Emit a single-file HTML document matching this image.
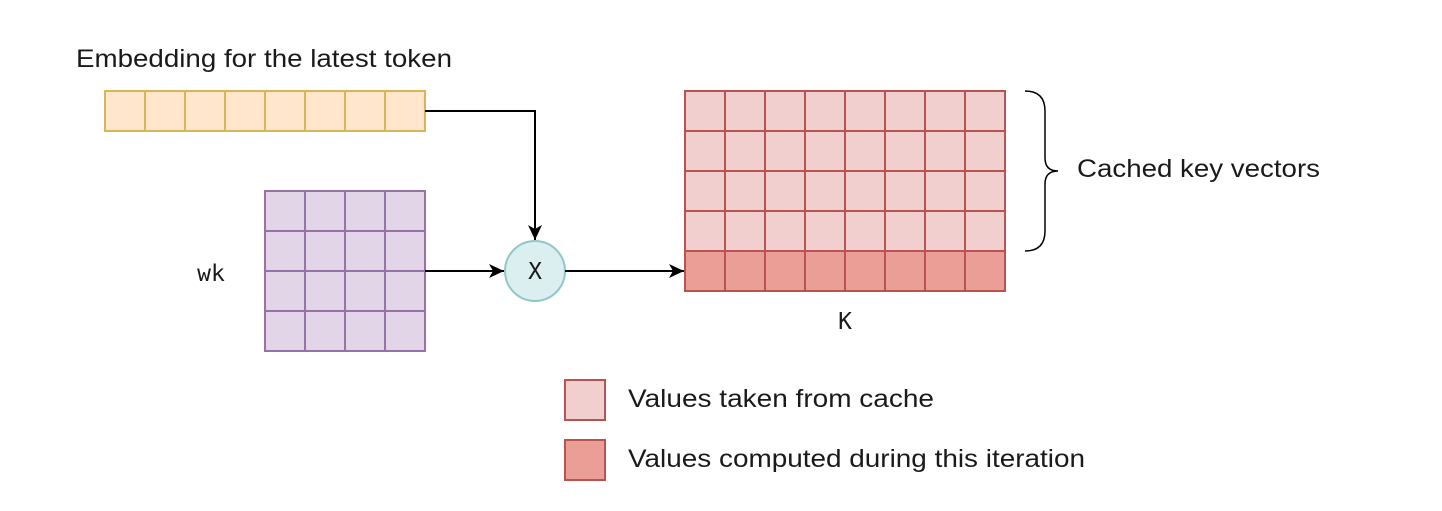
<!DOCTYPE html>
<html><head><style>html,body{margin:0;padding:0;background:#fff;}</style></head>
<body>
<svg width="1442" height="506" xmlns="http://www.w3.org/2000/svg">
<defs><marker id="a" markerWidth="16" markerHeight="14" refX="15" refY="7" orient="auto" markerUnits="userSpaceOnUse"><path d="M0,0 L15,7 L0,14 L4,7 Z" fill="#000"/></marker></defs>
<g stroke="#d6b656" stroke-width="2" fill="#ffe6cc">
<rect x="105" y="91" width="40" height="40"/><rect x="145" y="91" width="40" height="40"/><rect x="185" y="91" width="40" height="40"/><rect x="225" y="91" width="40" height="40"/><rect x="265" y="91" width="40" height="40"/><rect x="305" y="91" width="40" height="40"/><rect x="345" y="91" width="40" height="40"/><rect x="385" y="91" width="40" height="40"/>
</g>
<g stroke="#9673a6" stroke-width="2" fill="#e1d5e7" id="w"></g>
<g stroke="#b85450" stroke-width="2" id="k"></g>
<circle cx="535" cy="271" r="30" fill="#dbeef0" stroke="#8fc7c9" stroke-width="2"/>
<g stroke="#000" stroke-width="2" fill="none">
<path d="M425 111 H535 V240" marker-end="url(#a)"/>
<path d="M425 271 H504" marker-end="url(#a)"/>
<path d="M565 271 H684" marker-end="url(#a)"/>
</g>
<path d="M1025 91 Q1045 91 1045 111 V158 Q1045 171 1058 171 Q1045 171 1045 184 V231 Q1045 251 1025 251" stroke="#000" stroke-width="1.5" fill="none"/>
<rect x="565" y="380" width="40" height="40" fill="#f2cfcf" stroke="#b85450" stroke-width="2"/>
<rect x="565" y="440" width="40" height="40" fill="#ea9e96" stroke="#b85450" stroke-width="2"/>
<g font-family="Liberation Sans, sans-serif" font-size="25" fill="#1a1a1a">
<text x="76" y="67" textLength="376" lengthAdjust="spacingAndGlyphs">Embedding for the latest token</text>
<text x="1077" y="177" textLength="243" lengthAdjust="spacingAndGlyphs">Cached key vectors</text>
<text x="628" y="407" textLength="306" lengthAdjust="spacingAndGlyphs">Values taken from cache</text>
<text x="628" y="467" textLength="457" lengthAdjust="spacingAndGlyphs">Values computed during this iteration</text>
</g>
<g font-family="DejaVu Sans Mono, monospace" font-size="23" fill="#1a1a1a" text-anchor="middle">
<text x="211" y="281">wk</text>
<text x="535" y="279">X</text>
<text x="845" y="329">K</text>
</g>
<script>
var ns="http://www.w3.org/2000/svg";
var w=document.getElementById('w');
for(var r=0;r<4;r++)for(var c=0;c<4;c++){var e=document.createElementNS(ns,'rect');e.setAttribute('x',265+c*40);e.setAttribute('y',191+r*40);e.setAttribute('width',40);e.setAttribute('height',40);w.appendChild(e);}
var k=document.getElementById('k');
for(var r=0;r<5;r++)for(var c=0;c<8;c++){var e=document.createElementNS(ns,'rect');e.setAttribute('x',685+c*40);e.setAttribute('y',91+r*40);e.setAttribute('width',40);e.setAttribute('height',40);e.setAttribute('fill',r==4?'#ea9e96':'#f2cfcf');k.appendChild(e);}
</script>
</svg>
</body></html>
